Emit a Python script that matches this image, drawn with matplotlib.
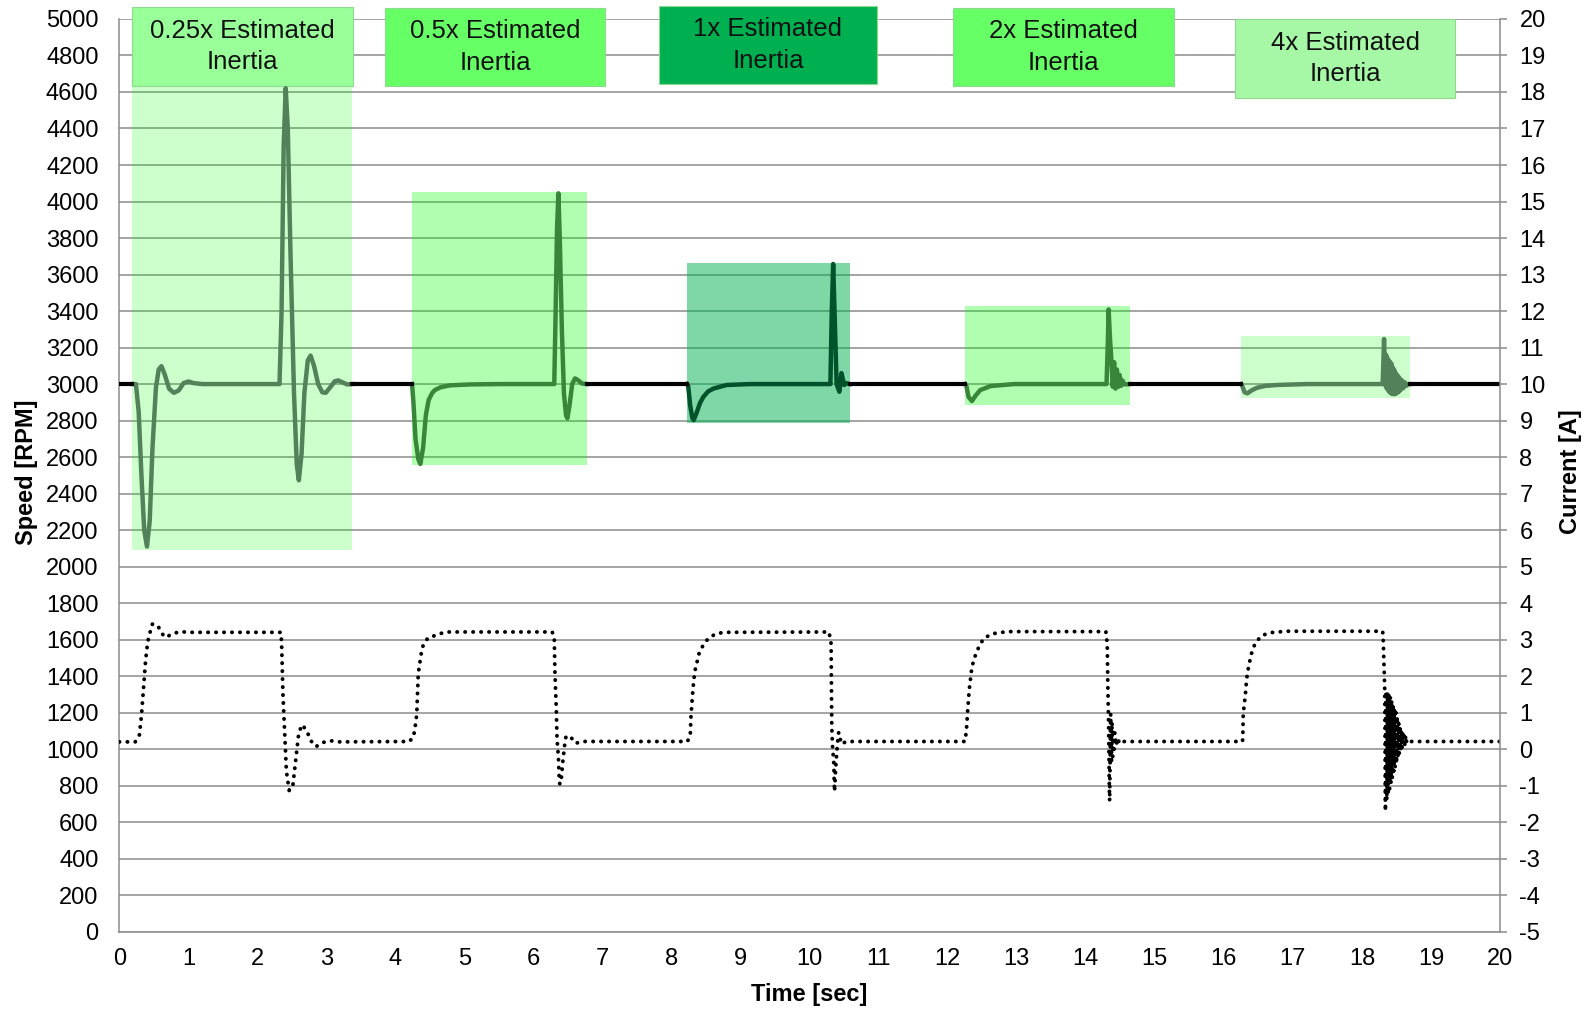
import numpy as np
import matplotlib
matplotlib.use('Agg')
import matplotlib.pyplot as plt
from matplotlib.patches import Rectangle

plt.rcParams['font.family'] = ['Liberation Sans', 'DejaVu Sans']
plt.rcParams['axes.unicode_minus'] = False

# speed trace [sec, RPM]
speed_t = [0, 0.19,
           0.24, 0.28, 0.32, 0.36, 0.40, 0.44, 0.48, 0.53, 0.57, 0.61, 0.66, 0.72, 0.79, 0.86, 0.93,
           1.0, 1.08, 1.2, 2.32, 2.35, 2.38, 2.41, 2.44, 2.48, 2.53, 2.57, 2.60, 2.64, 2.68, 2.73,
           2.77, 2.82, 2.88, 2.94, 2.99, 3.06, 3.12, 3.17, 3.24, 3.3, 3.37,
           4.24, 4.26, 4.29, 4.33, 4.36, 4.40, 4.44, 4.48, 4.53, 4.57, 4.65, 4.79, 5.08, 5.5, 6.30,
           6.32, 6.34, 6.36, 6.38, 6.41, 6.44, 6.47, 6.49, 6.52, 6.56, 6.60, 6.65, 6.70, 6.77,
           8.22, 8.24, 8.27, 8.30, 8.32, 8.36, 8.41, 8.46, 8.53, 8.61, 8.80, 9.14, 10.30, 10.32,
           10.34, 10.36, 10.39, 10.43, 10.46, 10.50, 10.53, 10.58,
           12.25, 12.27, 12.30, 12.35, 12.40, 12.47, 12.62, 12.96, 14.30, 14.32, 14.33, 14.35,
           14.37, 14.39, 14.41, 14.43, 14.45, 14.47, 14.49, 14.51, 14.53, 14.56, 14.64,
           16.25, 16.27, 16.30, 16.34, 16.40, 16.48, 16.60, 16.77, 17.2, 18.30, 18.32, 18.33,
           18.34, 18.35, 18.36, 18.37, 18.38, 18.39, 18.40, 18.41, 18.42, 18.43, 18.44, 18.45,
           18.46, 18.47, 18.48, 18.49, 18.50, 18.51, 18.52, 18.53, 18.54, 18.55, 18.56, 18.58,
           18.60, 18.62, 18.64, 18.67, 18.70, 20]
speed_rpm = [3000, 3000,
             3000, 2850, 2500, 2200, 2110, 2250, 2650, 2980, 3080, 3098, 3050, 2975, 2952, 2965, 3005,
             3014, 3005, 3000, 3000, 3400, 4300, 4621, 4400, 3700, 2950, 2560, 2473, 2620, 2950, 3130,
             3156, 3100, 3000, 2955, 2952, 2985, 3015, 3020, 3008, 2998, 3000,
             3000, 2900, 2700, 2590, 2562, 2650, 2830, 2912, 2950, 2967, 2982, 2993, 2998, 3000, 3000,
             3400, 3850, 4045, 3800, 3300, 2950, 2830, 2812, 2880, 3000, 3031, 3020, 3003, 3000,
             3000, 2990, 2880, 2815, 2803, 2840, 2895, 2930, 2960, 2976, 2995, 3000, 3000, 3400,
             3658, 3400, 3000, 2958, 3060, 2995, 3005, 3000,
             3000, 2990, 2930, 2907, 2935, 2967, 2989, 3000, 3000, 3250, 3409, 3250,
             3131, 2985, 3120, 2975, 3080, 2985, 3050, 2990, 3020, 2998, 3000,
             3000, 2985, 2955, 2949, 2965, 2980, 2990, 2995, 3000, 3000, 3247, 3100,
             2990, 3160, 2975, 3140, 2965, 3130, 2955, 3120, 2950, 3110, 2945, 3090,
             2945, 3075, 2945, 3060, 2950, 3050, 2955, 3040, 2960, 3030, 2968, 3020,
             2978, 3010, 2990, 3000, 3000, 3000]

# motor current [sec, A]
current_t = [0, 0.23, 0.29, 0.32, 0.34, 0.36, 0.38, 0.41, 0.44, 0.48, 0.56, 0.62, 0.67, 0.77, 0.88,
             1.0, 2.34, 2.35, 2.37, 2.40, 2.42, 2.46, 2.51, 2.54, 2.57, 2.60, 2.65, 2.72, 2.77, 2.85,
             2.94, 3.06, 3.18,
             4.20, 4.26, 4.28, 4.30, 4.31, 4.32, 4.33, 4.35, 4.37, 4.40, 4.47, 4.54, 4.64, 4.73, 6.27,
             6.30, 6.31, 6.33, 6.34, 6.36, 6.37, 6.38, 6.40, 6.42, 6.45, 6.47, 6.53, 6.61, 6.70,
             8.23, 8.27, 8.28, 8.30, 8.32, 8.34, 8.37, 8.40, 8.46, 8.53, 8.63, 8.75, 10.28,
             10.31, 10.315, 10.32, 10.33, 10.35, 10.355, 10.36, 10.38, 10.40, 10.42, 10.46, 10.53,
             12.25, 12.27, 12.29, 12.31, 12.33, 12.35, 12.39, 12.45, 12.52, 12.64, 12.86, 14.29,
             14.31, 14.32, 14.33, 14.335, 14.34, 14.345, 14.35, 14.36, 14.37, 14.38, 14.39, 14.40,
             14.41, 14.42, 14.44, 14.46, 14.49, 14.53,
             16.27, 16.275, 16.28, 16.31, 16.33, 16.36, 16.40, 16.45, 16.54, 16.66, 16.91, 18.30,
             18.31, 18.32, 18.33, 18.34, 18.35, 18.36, 18.37, 18.38, 18.39, 18.40, 18.41, 18.42,
             18.43, 18.44, 18.45, 18.46, 18.47, 18.48, 18.49, 18.50, 18.51, 18.52, 18.53, 18.54,
             18.55, 18.56, 18.57, 18.58, 18.59, 18.60, 18.61, 18.62, 18.63, 18.64, 18.65, 18.67, 20]
current_a = [0.2, 0.2, 0.39, 0.91, 1.42, 1.91, 2.42, 2.93, 3.17, 3.43, 3.37, 3.16, 3.06, 3.16, 3.22,
             3.2, 3.2, 2.93, 1.5, 0.2, -0.61, -1.13, -1.05, -0.55, -0.05, 0.46, 0.67, 0.48, 0.24, 0.07,
             0.18, 0.23, 0.2,
             0.21, 0.33, 0.55, 0.81, 1.06, 1.56, 2.07, 2.34, 2.59, 2.84, 3.05, 3.09, 3.16, 3.21, 3.21,
             3.07, 2.07, 1.06, 0.28, -0.22, -0.73, -0.96, -0.86, -0.41, 0.10, 0.35, 0.35, 0.16, 0.21,
             0.21, 0.39, 0.88, 1.42, 1.88, 2.16, 2.40, 2.64, 2.86, 3.03, 3.15, 3.20, 3.21,
             2.89, 1.61, 0.60, 0.10, -0.41, -0.91, -1.16, -0.41, 0.10, 0.46, 0.14, 0.21,
             0.21, 0.51, 1.10, 1.61, 1.93, 2.25, 2.52, 2.80, 3.03, 3.16, 3.22, 3.22,
             2.89, 1.61, 0.69, -0.3, -1.0, -1.42, -0.6, 0.97, -0.41, 0.74, -0.2, 0.55,
             0.0, 0.45, 0.1, 0.3, 0.15, 0.21,
             0.21, 0.42, 0.97, 1.47, 1.93, 2.29, 2.62, 2.89, 3.10, 3.19, 3.23, 3.23,
             2.89, 2.25, 1.63, -1.7, 1.6, -1.4, 1.55, -1.25, 1.5, -1.1, 1.45, -0.95,
             1.35, -0.8, 1.25, -0.6, 1.1, -0.5, 1.0, -0.4, 0.9, -0.25, 0.8, -0.15,
             0.65, -0.05, 0.55, 0.02, 0.45, 0.08, 0.38, 0.12, 0.32, 0.16, 0.27, 0.21, 0.21]

# highlighted regions
box_labels = ['0.25x Estimated\nInertia', '0.5x Estimated\nInertia', '1x Estimated\nInertia',
              '2x Estimated\nInertia', '4x Estimated\nInertia']
box_t = [(0.19, 3.37), (4.24, 6.77), (8.22, 10.58), (12.25, 14.64), (16.25, 18.70)]
box_rpm = [(2090, 4635), (2556, 4050), (2785, 3665), (2885, 3427), (2925, 3263)]
label_t = [(0.19, 3.38), (3.85, 7.04), (7.81, 10.98), (12.08, 15.28), (16.16, 19.35)]
label_rpm = [(4635, 5065), (4633, 5061), (4645, 5072), (4633, 5061), (4567, 5000)]

box_fill = ['#00ff00', '#00ff00', '#00b050', '#00ff00', '#00ff00']
box_alpha = [0.2, 0.31, 0.5, 0.31, 0.2]
label_fill = ['#99ff99', '#66ff66', '#00b050', '#66ff66', '#a6f7a6']
line_col = ['#52815a', '#37863a', '#00522a', '#37863a', '#52815a']

grid_col = '#8c8c8c'

fig = plt.figure(figsize=(15.87, 10.09), dpi=100)
ax = fig.add_axes([0.0752, 0.0766, 0.87, 0.9046])
ax.set_xlim(0, 20)
ax.set_ylim(0, 5000)
ax.set_xticks(range(0, 21))
ax.set_yticks(range(0, 5001, 200))
ax.grid(axis='y', color=grid_col, lw=1.1)
ax.set_axisbelow(True)
ax.tick_params(axis='y', length=0, labelsize=17, pad=15)
ax.tick_params(axis='x', length=0, labelsize=17, pad=12)
for s in ['top', 'right']:
    ax.spines[s].set_visible(False)
for s in ['left', 'bottom']:
    ax.spines[s].set_color(grid_col)
    ax.spines[s].set_linewidth(1.1)

ax2 = ax.twinx()
ax2.set_ylim(-5, 20)
ax2.set_yticks(range(-5, 21))
ax2.tick_params(axis='y', length=5, width=1.1, color=grid_col, labelsize=17, pad=9)
for s in ['top', 'left', 'bottom']:
    ax2.spines[s].set_visible(False)
ax2.spines['right'].set_color(grid_col)
ax2.spines['right'].set_linewidth(1.1)

t = np.array(speed_t)
rpm = np.array(speed_rpm, dtype=float)

# boxes and coloured pieces of the speed trace
outside = np.ones(len(t), dtype=bool)
for i in range(5):
    t0, t1 = box_t[i]
    r0, r1 = box_rpm[i]
    ax.add_patch(Rectangle((t0, r0), t1 - t0, r1 - r0, facecolor=box_fill[i],
                           alpha=box_alpha[i], lw=0, zorder=1))
    l0, l1 = label_t[i]
    q0, q1 = label_rpm[i]
    ax.add_patch(Rectangle((l0, q0), l1 - l0, q1 - q0, facecolor=label_fill[i],
                           edgecolor='#8fd88f', lw=0.8, zorder=3, clip_on=False))
    ax.text((l0 + l1) / 2, (q0 + q1) / 2, box_labels[i], ha='center', va='center',
            fontsize=18.5, linespacing=1.4, zorder=4, color='#111111')
    m = (t >= t0) & (t <= t1)
    ax.plot(t[m], rpm[m], color=line_col[i], lw=3.2, zorder=5, solid_joinstyle='round')
    outside &= ~((t > t0) & (t < t1))

black = np.where(outside, rpm, np.nan)
ax.plot(t, black, color='black', lw=3.0, zorder=5)

ax2.plot(current_t, current_a, color='black', lw=2.8, linestyle=(0, (0.05, 2.0)),
         dash_capstyle='round')

fig.text(26.3 / 1587, 1 - 472 / 1009, 'Speed [RPM]', rotation=90, ha='center', va='center',
         fontsize=17, fontweight='bold')
fig.text(1570 / 1587, 1 - 472 / 1009, 'Current [A]', rotation=90, ha='center', va='center',
         fontsize=17, fontweight='bold')
fig.text(809.6 / 1587, 1 - 994 / 1009, 'Time [sec]', ha='center', va='center',
         fontsize=17, fontweight='bold')

fig.savefig('out.png', dpi=100)
